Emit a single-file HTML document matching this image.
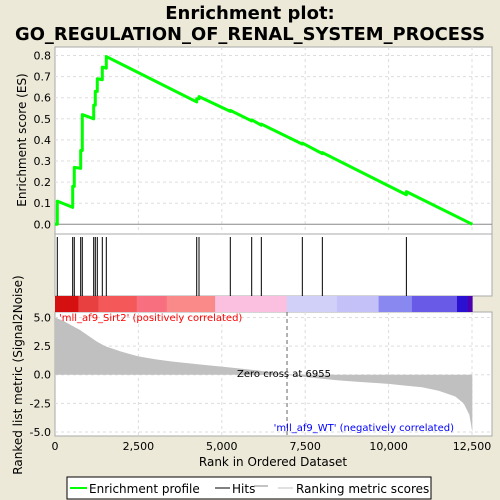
<!DOCTYPE html>
<html><head><meta charset="utf-8"><style>
body{margin:0;background:#ece9d8;}
svg{display:block;font-family:"DejaVu Sans","Liberation Sans",sans-serif;}
</style></head><body>
<svg id="chart" width="500" height="500" viewBox="0 0 500 500" xmlns="http://www.w3.org/2000/svg">
<rect width="500" height="500" fill="#ece9d8"/>
<text x="250" y="19" font-size="18" font-weight="bold" text-anchor="middle">Enrichment plot:</text>
<text x="250" y="40" font-size="18" font-weight="bold" text-anchor="middle" textLength="470" lengthAdjust="spacingAndGlyphs">GO_REGULATION_OF_RENAL_SYSTEM_PROCESS</text>
<rect x="55" y="47" width="437" height="187" fill="#fff" stroke="#aaa"/>
<rect x="55" y="234" width="437" height="62" fill="#fff" stroke="#aaa"/>
<rect x="55" y="312" width="437" height="124" fill="#fff" stroke="#aaa"/>
<g id="grid"></g>
<g id="colorbar"></g>
<g id="metric"></g>
<g id="hits"></g>
<g id="es"></g>
<g id="axes" font-size="11"></g>
<text transform="translate(26,140) rotate(-90)" font-size="12" text-anchor="middle">Enrichment score (ES)</text>
<text transform="translate(22,375) rotate(-90)" font-size="12" text-anchor="middle">Ranked list metric (Signal2Noise)</text>
<text x="273" y="466" font-size="12" text-anchor="middle">Rank in Ordered Dataset</text>
<text x="59" y="321" font-size="10" fill="#ff0000">'mll_af9_Sirt2' (positively correlated)</text>
<text x="454" y="431" font-size="10" fill="#0000ff" text-anchor="end">'mll_af9_WT' (negatively correlated)</text>
<text x="284" y="377" font-size="10" text-anchor="middle">Zero cross at 6955</text>
<g>
<rect x="67" y="477" width="364" height="22" fill="#fff" stroke="#000"/>
<line x1="70" y1="488" x2="87" y2="488" stroke="#00ff00" stroke-width="2"/>
<text x="89" y="493" font-size="12">Enrichment profile</text>
<line x1="215" y1="488" x2="230" y2="488" stroke="#000"/>
<text x="232" y="493" font-size="12">Hits</text>
<line x1="254" y1="486" x2="268" y2="486" stroke="#888"/>
<line x1="278" y1="488" x2="293" y2="488" stroke="#c0c0c0"/>
<text x="296" y="493" font-size="12">Ranking metric scores</text>
</g>
</svg>
<script>
const hitRanks=[69,530,578,770,818,1160,1208,1268,1418,1538,4248,4317,5255,5896,6185,7414,8014,10533];
const esBefore=[0,0.08,0.18,0.265,0.35,0.50,0.565,0.63,0.685,0.74,0.58,0.595,0.535,0.49,0.47,0.38,0.335,0.14];
const esAfter=[0.11,0.18,0.27,0.35,0.52,0.565,0.63,0.69,0.745,0.795,0.595,0.605,0.54,0.495,0.475,0.385,0.34,0.155];
const metricRanks=[0,250,500,750,1000,1250,1500,2000,2500,3000,3500,4000,4500,5000,5500,6000,6500,6955,7500,8000,8500,9000,9500,10000,10500,11000,11500,12000,12250,12420,12510];
const metricValues=[5.0,4.7,4.3,3.9,3.4,2.9,2.5,2.0,1.6,1.35,1.15,1.0,0.85,0.7,0.55,0.4,0.2,0,-0.2,-0.35,-0.5,-0.6,-0.7,-0.8,-0.95,-1.1,-1.4,-1.9,-2.5,-3.5,-5.0];
const colorStops=[0,700,1300,2450,3350,4800,6950,8450,9700,10700,12050,12370,12510];
const colorFills=['#d41010','#e84040','#f55858','#f87080','#fa8a8a','#fbc0e0','#d0d0f8','#c4c0f8','#8888f0','#6a5ae8','#2a10d0','#4a00b0'];
const esTicks=[0,0.1,0.2,0.3,0.4,0.5,0.6,0.7,0.8];
const metricTicks=[5,2.5,0,-2.5,-5];
const metricTickLabels=['5.0','2.5','0.0','-2.5','-5.0'];
const xTicks=[0,2500,5000,7500,10000,12500];
const xTickLabels=['0','2,500','5,000','7,500','10,000','12,500'];
const totalRanks=12510;
const NS='http://www.w3.org/2000/svg';
const X=r=>55+r*(417/12500);
const YE=v=>224.3-v*211;
const YM=v=>374.7-v*11.45;
function mk(p,t,a){const e=document.createElementNS(NS,t);for(const k in a)e.setAttribute(k,a[k]);document.getElementById(p).appendChild(e);return e;}
xTicks.forEach(t=>{if(t>0){let g=mk('grid','line',{x1:X(t),x2:X(t),y1:47,y2:234,stroke:'#ddd','stroke-dasharray':'3,3'});

let h=mk('grid','line',{x1:X(t),x2:X(t),y1:312,y2:436,stroke:'#ddd','stroke-dasharray':'3,3'});
}});
esTicks.forEach(t=>{let g=mk('grid','line',{x1:55,x2:492,y1:YE(t),y2:YE(t),stroke:t===0?'#888':'#ddd','stroke-dasharray':t===0?'':'3,3'});

let l=mk('axes','text',{x:51,y:YE(t)+4,'text-anchor':'end'});l.textContent=t.toFixed(1);
});
metricTicks.forEach((t,i)=>{let g=mk('grid','line',{x1:55,x2:492,y1:YM(t),y2:YM(t),stroke:'#ddd','stroke-dasharray':'3,3'});

let l=mk('axes','text',{x:51,y:YM(t)+4,'text-anchor':'end'});l.textContent=metricTickLabels[i];
});
xTicks.forEach((t,i)=>{let l=mk('axes','text',{x:X(t),y:450,'text-anchor':'middle'});l.textContent=xTickLabels[i];
});
colorFills.forEach((c,i)=>{let r=mk('colorbar','rect',{x:X(colorStops[i]),y:296,width:X(colorStops[i+1])-X(colorStops[i])+0.3,height:16,fill:c});
});
let d='M'+X(0)+','+YM(0);
metricRanks.forEach((r,i)=>{d+=' L'+X(r)+','+YM(metricValues[i]);});
d+=' L'+X(totalRanks)+','+YM(0)+' Z';
let m=mk('metric','path',{d:d,fill:'#c0c0c0'});

let z=mk('metric','line',{x1:X(6955),x2:X(6955),y1:312,y2:436,stroke:'#666','stroke-dasharray':'4,3'});

hitRanks.forEach(r=>{let l=mk('hits','line',{x1:X(r),x2:X(r),y1:237,y2:296,stroke:'#000','stroke-width':1});
});
let p='M'+X(0)+','+YE(0);
hitRanks.forEach((r,i)=>{p+=' L'+X(r)+','+YE(esBefore[i])+' L'+X(r)+','+YE(esAfter[i]);});
p+=' L'+X(totalRanks)+','+YE(0);
let e=mk('es','path',{d:p,fill:'none',stroke:'#00ff00','stroke-width':3,'stroke-linejoin':'round'});

</script>
</body></html>
